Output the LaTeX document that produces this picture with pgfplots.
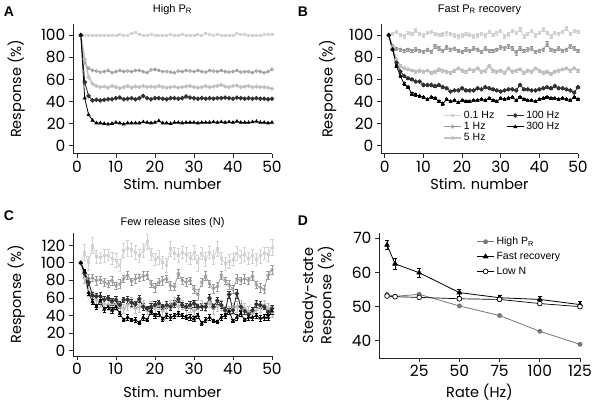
\documentclass[border=0pt]{standalone}
\usepackage{pgfplots}
\pgfplotsset{compat=1.18}
\usepackage{pgfplotstable}
\usepackage{fontspec}
\setmainfont{Liberation Sans}
\newfontfamily\pop{Poppins}

\definecolor{cA}{HTML}{D2D2D2}
\definecolor{cB}{HTML}{9A9A9A}
\definecolor{cC}{HTML}{C0C0C0}
\definecolor{cD}{HTML}{333333}
\definecolor{cHP}{HTML}{777777}

\pgfplotsset{
  panel/.style={scale only axis, axis lines=left, axis line style={line width=0.8pt,-,black!85},
    tick style={line width=0.8pt, black!85}, major tick length=4pt, tick align=outside,
    ticklabel style={font=\pop\fontsize{15.5}{15.5}\selectfont},
    /pgf/number format/assume math mode=true,
    label style={font=\pop\fontsize{14.5}{14.5}\selectfont},
    title style={font=\fontsize{11}{12}\selectfont, at={(0.5,1)}, anchor=south, yshift=0pt},
    clip=false},
  s01/.style={color=cA, line width=0.8pt, mark=square*, mark size=1pt, mark options={fill=cA}},
  s1/.style={color=cB, line width=0.7pt, mark=o, mark size=1.5pt, mark options={fill=white}},
  s5/.style={color=cC, line width=1.6pt, mark=*, mark size=1.1pt},
  s100/.style={color=cD, line width=0.9pt, mark=*, mark size=1.8pt},
  s300/.style={color=black, line width=0.8pt, mark=triangle*, mark size=1.6pt},
  eb/.style={error bars/y dir=both, error bars/y explicit, error bars/error bar style={line width=0.5pt}, error bars/error mark options={rotate=90, mark size=1.6pt, line width=0.5pt}},
}

\pgfplotstableread{
x a b c d e
1 100 100 100 100 100
2 99.5 75 78 57.5 43
3 100 70 62 45 28
4 100 68 56 41 23
5 99.5 67.5 54 41.5 20.5
6 100 66.5 53 41 20.5
7 99.8 67 53.5 41.5 20
8 100 68 52.5 42 19.5
9 99.5 66 54 42 20
10 100 67 53 43 21
11 100.2 68 52 43.5 20.5
12 99.6 67 53 42 19.5
13 100 67.5 54 42.5 20.5
14 101.5 67 52.5 43 20.5
15 102 68 53.5 42 20.5
16 101 68 53 43 20.5
17 100 67 54 45 21.5
18 99.7 66 53 43 21
19 100.5 68.5 53.5 42 20.5
20 100 69 53 43 21
21 100 68 54 43 22.5
22 99.5 67 53 42.5 20.5
23 99.8 67 52.5 42 20.5
24 100.5 66.5 53 43 20
25 99.5 66 53.5 43 21
26 100 67.5 52.5 42.5 21
27 100.8 67 53 43 20.5
28 99.5 68 53.5 44.5 21
29 100 67.5 54 43.5 21
30 100 67 53 43 21
31 100.2 68 52.5 42.5 20.5
32 99.6 67 53 43 21
33 101.5 66.5 54 42.5 21
34 100.8 68 53 43 21
35 100 67.5 53.5 42.5 21.5
36 100.6 67 54 43 21
37 100 68 55 43 21.5
38 99.5 67 53.5 43.5 21
39 99.6 66.5 53 43 21.5
40 100 67 54 42.5 21
41 101.2 68 54.5 43.5 22
42 100.5 66.5 53 43 21
43 100.2 67 53.5 42.5 21
44 99.6 67 54 43 21
45 100 66 53 42.5 21.5
46 99.8 67.5 53.5 43 22
47 99.5 67 53 42.5 21
48 100.2 66 53 42.5 21
49 100.5 67 52.5 42 20.5
50 101 69 51.5 42.5 21
}\tabA

\pgfplotstableread{
x a ea b eb c ec d ed e ee
1 100 0 100 0 100 0 100 0 100 0
2 101 1.5 90 1.5 88 1.2 87 1 87 1
3 103 1.8 88 1.4 78 1.3 75 1 72 1
4 100 1.5 87 1.5 72 1.2 67 1 63 1
5 99 1.6 86 1.3 70 1.2 63 1 56 1
6 102 1.7 87 1.5 69 1.2 61 1 53 1
7 101 1.5 86 1.4 68 1.1 60 1 47 1
8 104 1.8 87 1.6 67 1.2 58 1 46 1
9 101 1.5 86 1.5 68 1.2 58 1 45 1
10 100 1.6 85 1.4 67 1.2 55 1 44 1
11 102 1.7 87 1.5 68 1.1 55 1 42 1
12 103 1.5 85 1.6 66 1.2 55 1 44 1
13 101 1.6 90 2.0 67 1.2 54 1 43 1
14 100 1.5 88 1.5 69 1.3 55 1 40 1
15 101 1.7 86 1.4 68 1.2 53 1 38 1
16 102 1.8 89 1.6 67 1.2 52 1 42 1
17 101 1.5 87 1.5 66 1.2 49 1 40 1
18 100 1.6 88 1.4 68 1.2 50 1 41 1
19 99 1.5 86 1.5 70 1.3 50 1 39 1
20 100 1.7 85 1.5 68 1.2 52 1 41 1
21 101 1.6 87 1.6 67 1.2 50 1 40 1
22 100 1.5 86 1.4 69 1.2 50 1 40 1
23 99 1.8 88 1.5 68 1.2 50 1 41 1
24 100 1.6 87 1.5 70 1.3 52 1 41 1
25 101 1.5 85 1.4 67 1.2 51 1 42 1
26 100 1.7 88 1.6 68 1.2 53 1 41 1
27 103 1.6 86 1.5 72 1.4 52 1 43 1
28 100 1.5 86 1.5 68 1.2 51 1 41 1
29 102 1.8 87 1.5 67 1.2 50 1 40 1
30 104 1.6 89 1.6 68 1.2 49 1 43 1
31 99 1.5 88 1.5 66 1.2 50 1 42 1
32 101 1.7 90 1.8 70 1.3 51 1 43 1
33 104 1.6 88 1.5 67 1.2 51 1 44 1
34 102 1.5 84 2.0 68 1.2 50 1 41 1
35 105 1.8 88 1.5 69 1.2 55 1 44 1
36 99 1.6 86 1.5 66 1.2 51 1 42 1
37 101 1.5 87 1.6 68 1.2 51 1 41 1
38 104 1.7 88 1.5 67 1.2 50 1 41 1
39 100 1.6 85 1.4 70 1.3 50 1 40 1
40 102 1.5 86 1.5 68 1.2 51 1 42 1
41 105 1.8 87 1.5 66 1.2 52 1 43 1
42 102 1.6 92 2.0 67 1.2 53 1 44 1
43 99 1.5 87 1.5 65 1.2 52 1 43 1
44 102 1.7 86 1.5 67 1.2 54 1 43 1
45 101 1.6 88 1.6 68 1.2 52 1 42 1
46 103 1.5 86 1.5 69 1.2 52 1 43 1
47 106 1.8 87 1.5 70 1.3 51 1 42 1
48 101 1.6 90 1.7 68 1.2 50 1 41 1
49 104 1.5 88 1.5 70 1.2 48 1 44 1
50 103 1.6 86 1.5 68 1.2 53 1 42 1
}\tabB

\pgfplotstableread{
x a ea b eb c ec d ed e ee
1 100 0 100 0 100 0 100 0 100 0
2 112 9 88 4 82 5 88 4 90 3
3 100 8 82 5 68 6 78 4 66 3
4 120 9 83 4 62 6 63 4 56 3
5 107 7 80 5 58 5 62 3 50 3
6 106 6 81 4 55 6 62 4 56 3
7 108 7 78 5 53 5 58 4 47 3
8 109 6 76 4 52 6 60 3 50 3
9 105 7 80 5 54 5 56 4 46 3
10 103 8 74 4 52 6 58 4 50 3
11 97 7 76 5 50 6 52 4 42 3
12 114 8 82 4 48 5 58 3 35 2
13 117 9 86 5 52 6 58 4 38 3
14 115 7 79 4 55 6 55 4 35 2
15 112 8 82 5 48 5 53 3 35 3
16 108 7 83 4 50 6 59 4 32 2
17 114 8 85 5 52 6 50 4 38 3
18 124 9 86 5 46 5 48 3 35 2
19 110 7 76 4 50 6 50 4 45 3
20 104 7 72 5 48 6 52 4 40 3
21 106 8 78 4 52 5 54 4 42 3
22 101 7 80 5 45 6 50 3 36 2
23 97 8 82 4 50 6 52 4 40 3
24 116 9 74 5 52 5 50 4 38 3
25 111 7 73 4 55 6 53 4 40 3
26 109 8 88 5 50 6 59 4 42 3
27 112 7 80 4 52 5 52 3 40 3
28 110 8 78 5 48 6 50 4 38 2
29 105 7 80 4 50 6 52 4 38 3
30 112 8 70 5 45 5 54 4 36 3
31 100 9 64 6 48 6 50 3 40 3
32 111 7 78 5 52 6 50 4 31 2
33 104 8 85 5 50 5 50 4 35 3
34 112 7 76 4 55 6 60 4 38 3
35 106 8 71 5 48 6 50 3 34 2
36 116 9 73 5 50 5 57 4 33 2
37 105 7 86 5 52 6 52 4 38 3
38 99 7 80 4 45 6 46 4 40 3
39 102 8 75 5 46 5 64 4 45 3
40 104 7 70 4 48 6 46 3 34 2
41 111 8 82 5 50 6 65 5 38 3
42 107 7 80 4 52 5 50 4 42 3
43 110 8 82 5 48 6 45 4 35 2
44 105 7 80 4 45 6 41 3 38 3
45 108 8 85 5 42 5 46 4 38 3
46 104 7 75 4 46 6 53 4 40 3
47 108 8 72 5 50 6 52 4 37 3
48 111 7 70 4 52 5 50 3 38 3
49 110 8 86 5 48 6 44 4 38 3
50 118 9 92 5 44 6 48 4 45 3
}\tabC

\begin{document}
\begin{tikzpicture}
\useasboundingbox (0pt,0pt) rectangle (600pt,-408pt);

% Panel letters
\node[font=\bfseries\fontsize{14}{14}\selectfont] at (9pt,-12pt) {A};
\node[font=\bfseries\fontsize{14}{14}\selectfont] at (303pt,-12pt) {B};
\node[font=\bfseries\fontsize{14}{14}\selectfont] at (9pt,-216pt) {C};
\node[font=\bfseries\fontsize{14}{14}\selectfont] at (303pt,-221pt) {D};

% Panel A
\begin{axis}[panel, at={(73pt,-153.5pt)}, anchor=south west,
  width=199pt, height=129.5pt, xmin=-1, xmax=50, ymin=-7, ymax=110,
  xtick={0,10,...,50}, ytick={0,20,...,100},
  title={High P\textsubscript{R}},
  xlabel={Stim. number}, ylabel={Response (\%)},
  xlabel style={at={(axis description cs:0.5,-0.235)}, anchor=center},
  ylabel style={at={(axis description cs:-0.285,0.5)}, anchor=center}]
\addplot[s01] table[x=x,y=a]{\tabA};
\addplot[s1] table[x=x,y=b]{\tabA};
\addplot[s5] table[x=x,y=c]{\tabA};
\addplot[s100] table[x=x,y=d]{\tabA};
\addplot[s300] table[x=x,y=e]{\tabA};
\end{axis}

% Panel B
\begin{axis}[panel, at={(381pt,-153.5pt)}, anchor=south west,
  width=197pt, height=129.5pt, xmin=-1, xmax=50, ymin=-7, ymax=110,
  xtick={0,10,...,50}, ytick={0,20,...,100},
  title={Fast P\textsubscript{R} recovery},
  xlabel={Stim. number}, ylabel={Response (\%)},
  xlabel style={at={(axis description cs:0.5,-0.235)}, anchor=center},
  ylabel style={at={(axis description cs:-0.27,0.5)}, anchor=center},
  legend style={at={(0.30,0.36)}, anchor=north west, draw=none, fill=none,
    font=\fontsize{10.5}{10.5}\selectfont, row sep=-1.5pt,
    /tikz/every even column/.append style={column sep=10pt}},
  legend columns=2, legend cell align=left]
\addplot[s01, forget plot, eb] table[x=x,y=a,y error=ea]{\tabB};
\addplot[s1, forget plot, eb] table[x=x,y=b,y error=eb]{\tabB};
\addplot[s5, forget plot, eb] table[x=x,y=c,y error=ec]{\tabB};
\addplot[s100, forget plot, eb] table[x=x,y=d,y error=ed]{\tabB};
\addplot[s300, forget plot, eb] table[x=x,y=e,y error=ee]{\tabB};
\addlegendimage{s01}\addlegendentry{0.1 Hz}
\addlegendimage{s100}\addlegendentry{100 Hz}
\addlegendimage{s1}\addlegendentry{1 Hz}
\addlegendimage{s300}\addlegendentry{300 Hz}
\addlegendimage{s5}\addlegendentry{5 Hz}
\end{axis}

% Panel C
\begin{axis}[panel, at={(73pt,-356pt)}, anchor=south west,
  width=199pt, height=123pt, xmin=-1, xmax=50, ymin=-6, ymax=134,
  xtick={0,10,...,50}, ytick={0,20,...,120},
  title={Few release sites (N)}, title style={yshift=-4pt},
  xlabel={Stim. number}, ylabel={Response (\%)},
  xlabel style={at={(axis description cs:0.5,-0.29)}, anchor=center},
  ylabel style={at={(axis description cs:-0.285,0.5)}, anchor=center}]
\addplot[s01, eb] table[x=x,y=a,y error=ea]{\tabC};
\addplot[s1, eb] table[x=x,y=b,y error=eb]{\tabC};
\addplot[s5, eb] table[x=x,y=c,y error=ec]{\tabC};
\addplot[s100, eb] table[x=x,y=d,y error=ed]{\tabC};
\addplot[s300, eb] table[x=x,y=e,y error=ee]{\tabC};
\end{axis}

% Panel D
\begin{axis}[panel, at={(379pt,-358pt)}, anchor=south west,
  width=201pt, height=125pt, xmin=0, xmax=125, ymin=35, ymax=71.5,
  xtick={25,50,...,125}, ytick={40,50,60,70},
  xlabel={Rate (Hz)}, ylabel={Steady-state\\Response (\%)},
  xlabel style={at={(axis description cs:0.5,-0.27)}, anchor=center},
  ylabel style={at={(axis description cs:-0.30,0.5)}, anchor=center, align=center},
  legend style={at={(0.47,1.0)}, anchor=north west, draw=none, fill=none,
    font=\fontsize{10.5}{10.5}\selectfont, row sep=2pt},
  legend cell align=left]
\addplot[cHP, line width=0.8pt, mark=*, mark size=2pt] coordinates {
  (5,53.6) (10,53.0) (25,53.6) (50,50.2) (75,47.4) (100,42.8) (125,39.0)};
\addlegendentry{High P\textsubscript{R}}
\addplot[black, line width=0.8pt, mark=triangle*, mark size=2.6pt,
  error bars/.cd, y dir=both, y explicit, error bar style={line width=0.7pt},
  error mark options={rotate=90, mark size=2pt, line width=0.7pt}] coordinates {
  (5,68.0) +- (0,1.3) (10,62.5) +- (0,1.6) (25,59.9) +- (0,1.4) (50,54.1) +- (0,1.0)
  (75,52.6) +- (0,0.8) (100,52.1) +- (0,0.8) (125,50.6) +- (0,0.8)};
\addlegendentry{Fast recovery}
\addplot[black, line width=0.7pt, mark=*, mark size=2.4pt, mark options={fill=white}] coordinates {
  (5,53.1) (10,52.9) (25,52.7) (50,52.3) (75,52.1) (100,50.9) (125,50.0)};
\addlegendentry{Low N}
\end{axis}
\end{tikzpicture}
\end{document}
